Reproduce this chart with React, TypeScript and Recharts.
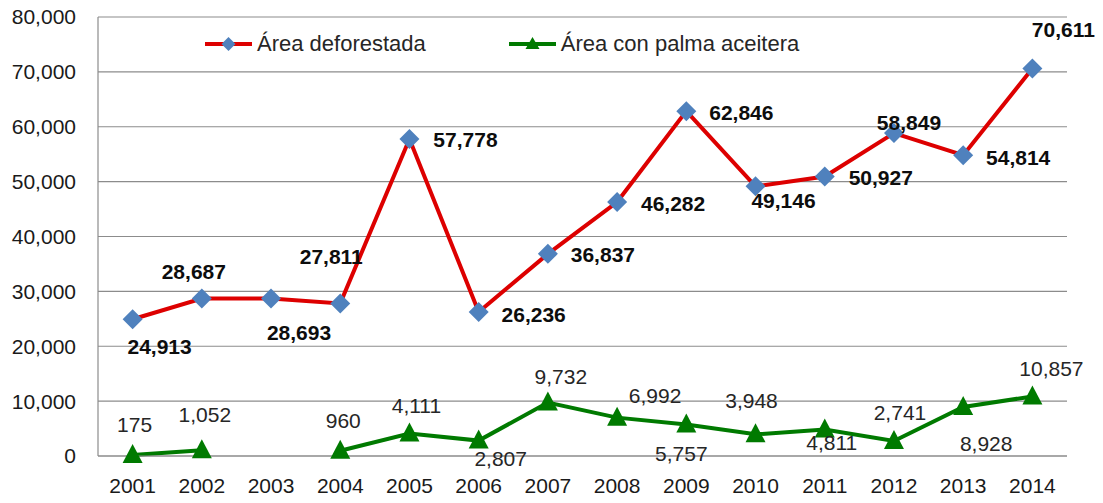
import React from 'react';
import { LineChart, Line, XAxis, YAxis, CartesianGrid, Legend, LabelList } from 'recharts';

const years = ['2001','2002','2003','2004','2005','2006','2007','2008','2009','2010','2011','2012','2013','2014'];
const deforestada = [24913, 28687, 28693, 27811, 57778, 26236, 36837, 46282, 62846, 49146, 50927, 58849, 54814, 70611];
const palma: (number | null)[] = [175, 1052, null, 960, 4111, 2807, 9732, 6992, 5757, 3948, 4811, 2741, 8928, 10857];
const yTicks = [0, 10000, 20000, 30000, 40000, 50000, 60000, 70000, 80000];

// label centre offsets relative to the point (dx, dy)
const redLabelOffsets: [number, number][] = [
  [27, 27], [-8, -27], [28, 34], [-9, -47], [56, 1], [55, 2], [55, 1],
  [56, 1], [55, 1], [28, 14], [56, 1], [15, -11], [55, 2], [31, -39],
];
const greenLabelOffsets: [number, number][] = [
  [2, -31], [3, -36], [0, 0], [3, -30], [7, -28], [22, 18], [13, -26],
  [38, -22], [-5, 29], [-4, -34], [7, 13], [6, -28], [23, 36], [19, -28],
];

const data = years.map((y, i) => ({ year: y, def: deforestada[i], palma: palma[i] }));

const FONT = '"Liberation Sans", Arial, sans-serif';
const fmt = (v: number) => v.toLocaleString('en-US');

const Diamond = (props: any) => {
  const { cx, cy } = props;
  if (cx == null || cy == null) return null;
  const r = 10;
  return <polygon points={`${cx},${cy - r} ${cx + r},${cy} ${cx},${cy + r} ${cx - r},${cy}`} fill="#4F81BD" />;
};

const Triangle = (props: any) => {
  const { cx, cy, value } = props;
  if (cx == null || cy == null || value == null) return null;
  const w = 10;
  return <polygon points={`${cx},${cy - 11} ${cx + w},${cy + 8} ${cx - w},${cy + 8}`} fill="#007A00" />;
};

const makeLabel = (offsets: [number, number][], bold: boolean, color: string) => (props: any) => {
  const { x, y, value, index } = props;
  if (value == null || x == null || y == null) return null;
  const [dx, dy] = offsets[index] || [0, 0];
  return (
    <text x={x + dx} y={y + dy} textAnchor="middle" dominantBaseline="central"
      fontFamily={FONT} fontSize={21} fontWeight={bold ? 'bold' : 'normal'} fill={color}>
      {fmt(value)}
    </text>
  );
};

const renderLegend = () => (
  <div style={{ display: 'flex', alignItems: 'center', fontFamily: FONT, fontSize: 22, color: '#262626', whiteSpace: 'nowrap' }}>
    <svg width={50} height={24} style={{ marginRight: 3 }}>
      <line x1={1} y1={12} x2={48} y2={12} stroke="#DD0000" strokeWidth={4} />
      <polygon points="24.5,5 31.5,12 24.5,19 17.5,12" fill="#4F81BD" />
    </svg>
    <span style={{ marginRight: 82 }}>Área deforestada</span>
    <svg width={50} height={24} style={{ marginRight: 3 }}>
      <line x1={1} y1={12} x2={48} y2={12} stroke="#007A00" strokeWidth={4} />
      <polygon points="24.5,5 31.5,17 17.5,17" fill="#007A00" />
    </svg>
    <span>Área con palma aceitera</span>
  </div>
);

export default function App() {
  return (
    <div style={{ position: 'absolute', left: 0, top: 0, width: 1103, height: 503, background: '#fff' }}>
      <LineChart width={1103} height={503} data={data} margin={{ top: 17, right: 36, bottom: 0, left: 0 }}>
        <CartesianGrid vertical={false} stroke="#8C8C8C" strokeWidth={1.2} />
        <XAxis dataKey="year" height={47} padding={{ left: 34.6, right: 34.6 }} tickLine={false} tickSize={0} tickMargin={22}
          axisLine={{ stroke: '#8C8C8C', strokeWidth: 1.2 }}
          tick={{ fontFamily: FONT, fontSize: 21, fill: '#1A1A1A' }} interval={0} />
        <YAxis width={98} domain={[0, 80000]} ticks={yTicks} tickFormatter={fmt} tickLine={false} tickSize={0} tickMargin={22}
          axisLine={{ stroke: '#8C8C8C', strokeWidth: 1.2 }}
          tick={{ fontFamily: FONT, fontSize: 21, fill: '#1A1A1A' }} interval={0} />
        <Legend content={renderLegend} layout="horizontal" verticalAlign="middle" align="center"
          wrapperStyle={{ position: 'absolute', top: 31, left: 204, width: 'auto', height: 'auto' }} />
        <Line dataKey="def" name="Área deforestada" stroke="#DD0000" strokeWidth={4} dot={<Diamond />} activeDot={false}
          isAnimationActive={false} type="linear">
          <LabelList dataKey="def" content={makeLabel(redLabelOffsets, true, '#0D0D0D')} />
        </Line>
        <Line dataKey="palma" name="Área con palma aceitera" stroke="#007A00" strokeWidth={4} dot={<Triangle />} activeDot={false}
          isAnimationActive={false} type="linear" connectNulls={false}>
          <LabelList dataKey="palma" content={makeLabel(greenLabelOffsets, false, '#262626')} />
        </Line>
      </LineChart>
    </div>
  );
}
